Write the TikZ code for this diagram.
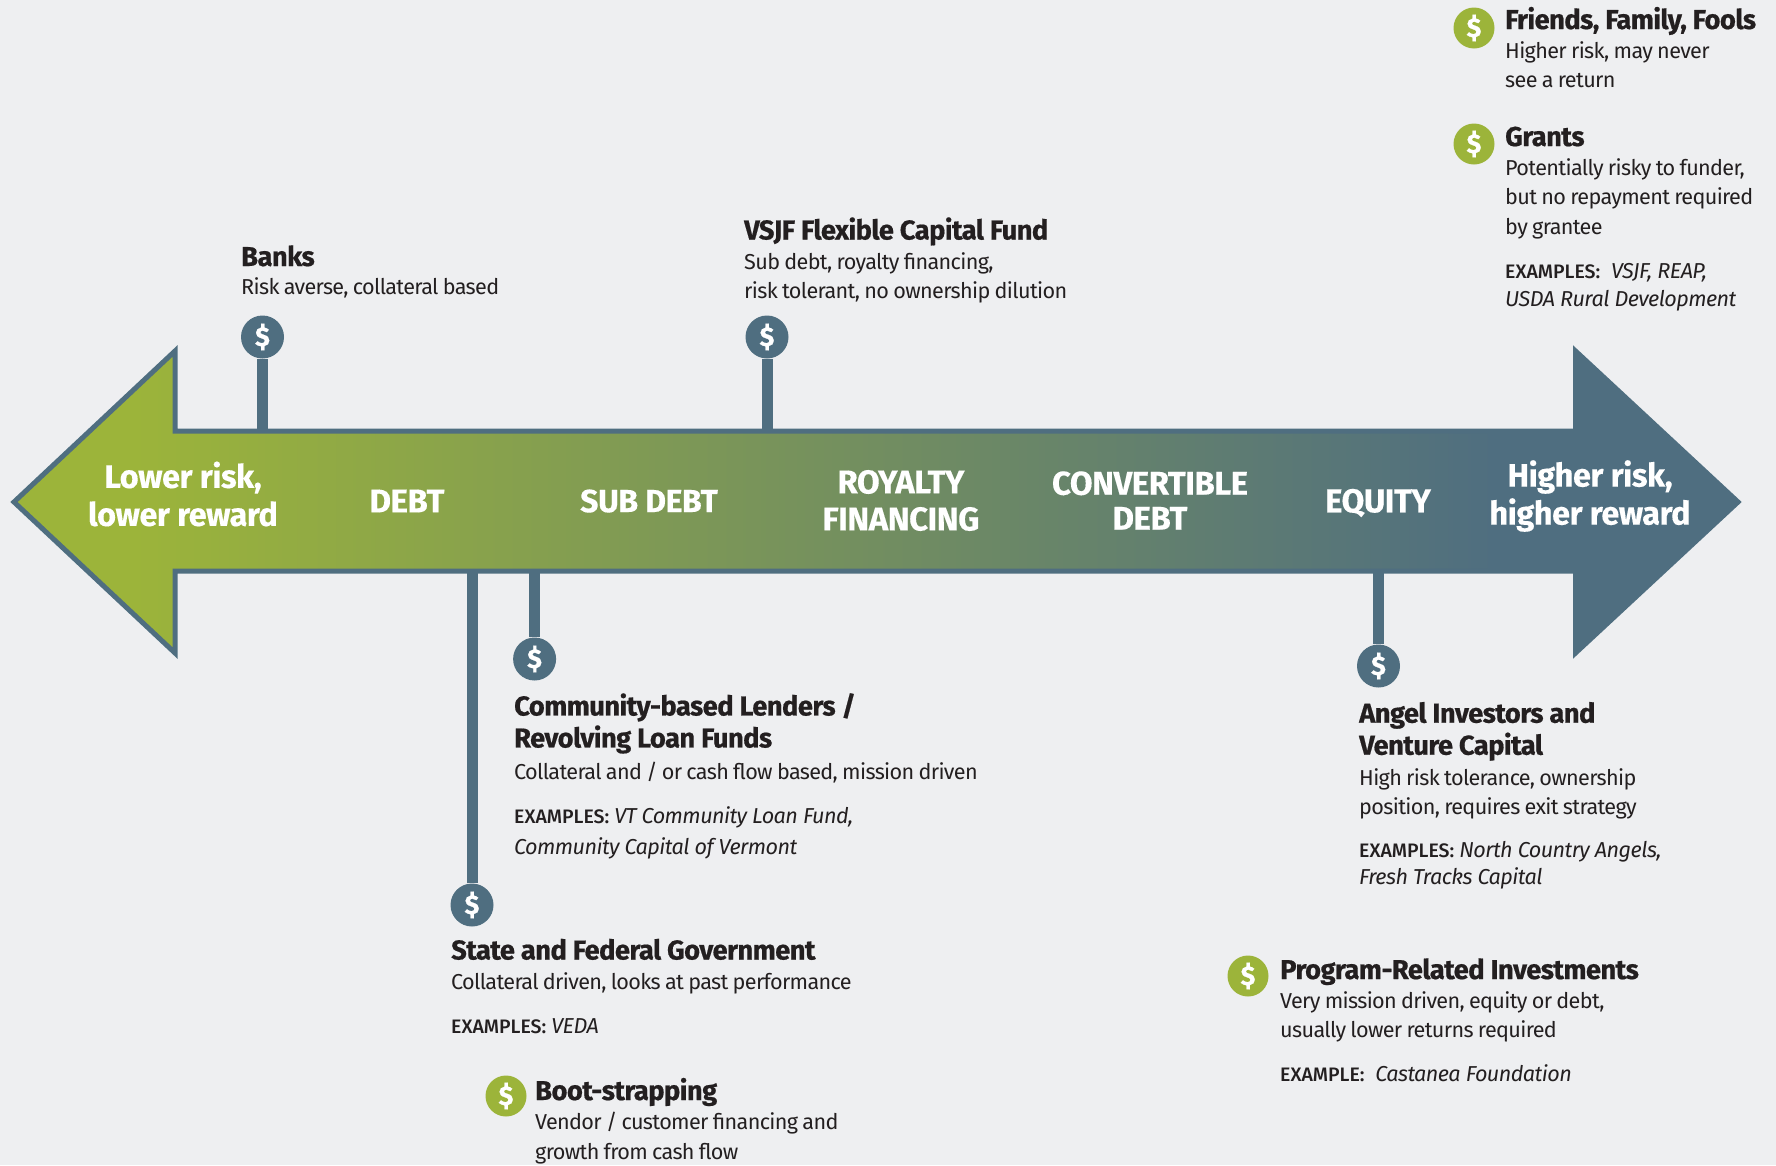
\documentclass[tikz,border=0pt]{standalone}
\usepackage{fontspec}
\setmainfont{Fira Sans}
\newfontfamily\headf{Fira Sans}[UprightFont={* Bold},FakeBold=0.6,LetterSpace=-2]
\newfontfamily\bodyf{Fira Sans}[LetterSpace=-3,WordSpace=0.85]
\newfontfamily\itf{Fira Sans}[UprightFont={* Italic},LetterSpace=-2.5]
\newfontfamily\capf{Fira Sans}[UprightFont={* Medium}]
\newfontfamily\whitef{Fira Sans}[UprightFont={* Bold},FakeBold=0.3,LetterSpace=-1.5]
\definecolor{bg}{HTML}{EEEFF1}
\definecolor{slateb}{HTML}{4F6E80}
\definecolor{greenb}{HTML}{9CB43A}
\definecolor{ink}{HTML}{231F20}
\pgfdeclarehorizontalshading{arrowgrad}{100bp}{color(0bp)=(greenb); color(28.4bp)=(greenb); color(68bp)=(slateb); color(100bp)=(slateb)}
\newcommand{\ex}[1]{{\capf\fontsize{19.5}{19.5}\selectfont #1}}
\tikzset{
  hd/.style={anchor=base west,inner sep=0,font=\headf\fontsize{27.3}{32}\selectfont,text=ink},
  hdtwo/.style={anchor=north west,inner sep=0,align=left,yshift=22pt,font=\headf\fontsize{27.3}{32}\selectfont,text=ink},
  bd/.style={anchor=north west,inner sep=0,align=left,yshift=16pt,font=\bodyf\fontsize{21.6}{29.5}\selectfont,text=ink},
  exb/.style={anchor=north west,inner sep=0,align=left,yshift=16pt,font=\itf\fontsize{21.6}{29.5}\selectfont,text=ink},
  wt/.style={anchor=center,inner sep=0,align=center,text=white},
  wbig/.style={wt,font=\whitef\fontsize{32.5}{38}\selectfont},
  wcap/.style={wt,font=\whitef\fontsize{33}{37}\selectfont},
  dollar/.style={circle,inner sep=0,minimum size=43pt,text=white,font=\headf\fontsize{27}{27}\selectfont},
  bluedot/.style={dollar,fill=slateb},
  greendot/.style={dollar,minimum size=41pt,fill=greenb},
  stem/.style={draw=slateb,line width=11pt}
}
\newcommand{\fst}{\rule{0pt}{16pt}}
\newcommand{\hst}{\rule{0pt}{22pt}}
\begin{document}
\begin{tikzpicture}[x=1pt,y=-1pt]
\useasboundingbox (0,0) rectangle (1776,1165);
\fill[bg] (0,0) rectangle (1776,1165);
% anchor points on the shaft
\coordinate (sBanks) at (262.5,431);
\coordinate (sVsjf) at (767,431);
\coordinate (sCom) at (534.6,571);
\coordinate (sState) at (472,571);
\coordinate (sAngel) at (1378.5,571);
% dollar markers
\node[bluedot] (dBanks) at (262.5,337) {\$};
\node[bluedot] (dVsjf) at (767,337) {\$};
\node[bluedot] (dCom) at (534.6,659) {\$};
\node[bluedot] (dState) at (472,905) {\$};
\node[bluedot] (dAngel) at (1378.5,666) {\$};
\node[greendot] (dFriends) at (1474,28) {\$};
\node[greendot] (dGrants) at (1474,144) {\$};
\node[greendot] (dPri) at (1248,976) {\$};
\node[greendot] (dBoot) at (506,1096) {\$};
% stems
\draw[stem] (dBanks) -- (sBanks);
\draw[stem] (dVsjf) -- (sVsjf);
\draw[stem] (dCom) -- (sCom);
\draw[stem] (dState) -- (sState);
\draw[stem] (dAngel) -- (sAngel);
% arrow
\path[shading=arrowgrad,draw=slateb,line width=5pt,miter limit=10]
  (14,502) -- (175,351) -- (175,431) -- (1575.5,431) -- (1575.5,351) -- (1738,502) -- (1575.5,653) -- (1575.5,571) -- (175,571) -- (175,653) -- cycle;
% arrow labels
\node[wbig] (l1) at (183,494) {Lower risk,\\lower reward};
\node[wcap] (l2) at (407,501) {DEBT};
\node[wcap,font=\whitef\fontsize{32}{37}\selectfont] (l3) at (649,501) {SUB DEBT};
\node[wcap] (l4) at (901,500.5) {ROYALTY\\FINANCING};
\node[wcap,font=\whitef\fontsize{33}{35}\selectfont] (l5) at (1150,500.5) {CONVERTIBLE\\DEBT};
\node[wcap] (l6) at (1378,503) {EQUITY};
\node[wbig] (l7) at (1590,496) {Higher risk,\\higher reward};
% text
\node[hd] (tBanksH) at (241,266) {Banks};
\node[bd] (tBanksB) at (241,293) {\fst Risk averse, collateral based};
\node[hd] (tVsjfH) at (744,239.5) {VSJF Flexible Capital Fund};
\node[bd] (tVsjfB) at (744,268) {\fst Sub debt, royalty financing,\\risk tolerant, no ownership dilution};
\node[hdtwo] (tComH) at (514,715) {\hst Community-based Lenders /\\Revolving Loan Funds};
\node[bd] (tComB) at (514,777.5) {\fst Collateral and / or cash flow based, mission driven};
\node[exb,font=\itf\fontsize{21.6}{31.7}\selectfont] (tComE) at (514,822) {\fst\ex{EXAMPLES:} VT Community Loan Fund,\\Community Capital of Vermont};
\node[hd] (tStateH) at (451,959.5) {State and Federal Government};
\node[bd] (tStateB) at (451,988) {\fst Collateral driven, looks at past performance};
\node[exb] (tStateE) at (451,1033) {\fst\ex{EXAMPLES:} VEDA};
\node[hd] (tBootH) at (535,1100) {Boot-strapping};
\node[bd] (tBootB) at (535,1128) {\fst Vendor / customer financing and\\growth from cash flow};
\node[hdtwo] (tAngelH) at (1359,722.5) {\hst Angel Investors and\\Venture Capital};
\node[bd] (tAngelB) at (1359,784) {\fst High risk tolerance, ownership\\position, requires exit strategy};
\node[exb,font=\itf\fontsize{21.6}{27.5}\selectfont] (tAngelE) at (1359,857) {\fst\ex{EXAMPLES:} North Country Angels,\\Fresh Tracks Capital};
\node[hd] (tPriH) at (1280,979) {Program-Related Investments};
\node[bd] (tPriB) at (1280,1007) {\fst Very mission driven, equity or debt,\\usually lower returns required};
\node[exb] (tPriE) at (1280,1080) {\fst\ex{EXAMPLE:}\enspace Castanea Foundation};
\node[hd] (tFriendsH) at (1505,29) {Friends, Family, Fools};
\node[bd] (tFriendsB) at (1505,57) {\fst Higher risk, may never\\see a return};
\node[hd] (tGrantsH) at (1505,146) {Grants};
\node[bd] (tGrantsB) at (1505,174) {\fst Potentially risky to funder,\\but no repayment required\\by grantee};
\node[exb,font=\itf\fontsize{21.6}{28.5}\selectfont] (tGrantsE) at (1505,278) {\fst\ex{EXAMPLES:}\enspace VSJF, REAP,\\USDA Rural Development};
\end{tikzpicture}
\end{document}
